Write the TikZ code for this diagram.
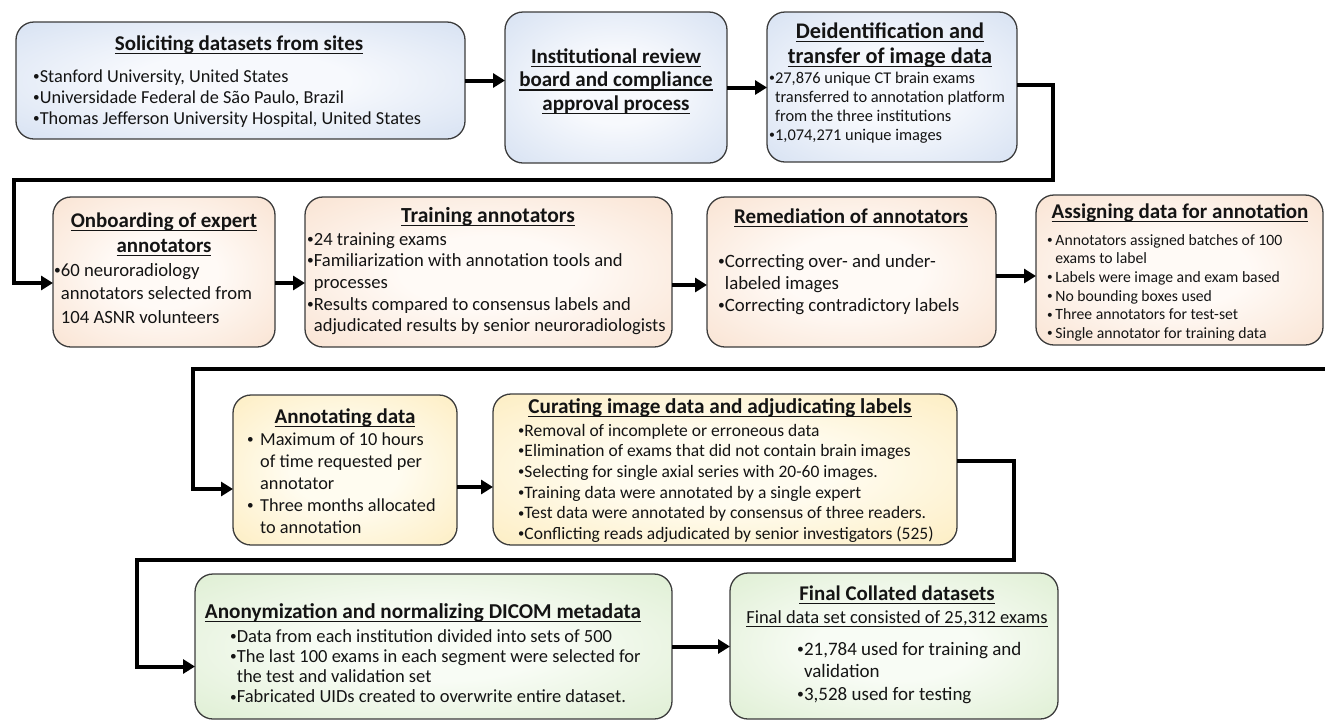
\documentclass[tikz,border=0pt]{standalone}
\usepackage{fontspec}
\usepackage{graphicx}
\setmainfont{Carlito}
\usetikzlibrary{arrows.meta,calc}
\definecolor{blueO}{RGB}{196,212,236}
\definecolor{blueI}{RGB}{247,249,253}
\definecolor{oranO}{RGB}{246,214,190}
\definecolor{oranI}{RGB}{255,250,246}
\definecolor{yellO}{RGB}{252,229,168}
\definecolor{yellI}{RGB}{255,252,240}
\definecolor{grenO}{RGB}{208,231,192}
\definecolor{grenI}{RGB}{248,252,245}
\definecolor{edgec}{RGB}{60,60,60}
\definecolor{textc}{RGB}{20,20,20}
\pgfdeclareradialshading{sblue}{\pgfpoint{0bp}{0bp}}{color(0bp)=(blueI); color(12bp)=(blueI); color(50bp)=(blueO)}
\pgfdeclareradialshading{soran}{\pgfpoint{0bp}{0bp}}{color(0bp)=(oranI); color(12bp)=(oranI); color(50bp)=(oranO)}
\pgfdeclareradialshading{syell}{\pgfpoint{0bp}{0bp}}{color(0bp)=(yellI); color(12bp)=(yellI); color(50bp)=(yellO)}
\pgfdeclareradialshading{sgren}{\pgfpoint{0bp}{0bp}}{color(0bp)=(grenI); color(12bp)=(grenI); color(50bp)=(grenO)}
\newcommand\bl{\raisebox{0.1em}{\scalebox{0.72}{\textbullet}}}
\newcommand\ci{\hphantom{\bl}}
\newcommand\ul[1]{\setbox0\hbox{#1}\leavevmode\rlap{\rule[-4.4pt]{\wd0}{1.5pt}}\box0}
\newcommand\TL[3]{\parbox[t]{600pt}{\fontsize{#1}{#2}\selectfont\raggedright #3}}
\newcommand\TT[3]{\parbox[t]{600pt}{\centering\fontsize{#1}{#2}\selectfont\bfseries #3}}
\tikzset{
  box/.style={draw=edgec, line width=1.3pt, rounded corners=18pt, anchor=north west, inner sep=0pt, outer sep=0pt},
  lt/.style={anchor=base west, inner sep=0pt, text=textc},
  ct/.style={anchor=base, inner sep=0pt, text=textc},
  conn/.style={line width=4pt, -{Triangle[length=12pt,width=14pt]}}
}
\begin{document}
\begin{tikzpicture}[x=1pt,y=-1pt]
\useasboundingbox (0,0) rectangle (1325,721);
% boxes
\node[box, shading=sblue, minimum width=449pt, minimum height=117pt] (b1) at (16,22) {};
\node[box, shading=sblue, minimum width=222pt, minimum height=151pt] (b2) at (505,12) {};
\node[box, shading=sblue, minimum width=250pt, minimum height=150pt] (b3) at (767,12) {};
\node[box, shading=soran, minimum width=222pt, minimum height=150pt] (b4) at (53,197) {};
\node[box, shading=soran, minimum width=367pt, minimum height=150pt] (b5) at (305,197) {};
\node[box, shading=soran, minimum width=289pt, minimum height=150pt] (b6) at (707,197) {};
\node[box, shading=soran, minimum width=287pt, minimum height=150pt] (b7) at (1036,195) {};
\node[box, shading=syell, minimum width=224pt, minimum height=150pt] (b8) at (233,395) {};
\node[box, shading=syell, minimum width=464pt, minimum height=151pt] (b9) at (493,394) {};
\node[box, shading=sgren, minimum width=477pt, minimum height=145pt] (b10) at (195,574) {};
\node[box, shading=sgren, minimum width=328pt, minimum height=146pt] (b11) at (730,573) {};
% texts
\node[ct] (h1) at (239,50) {\TT{21}{22}{\ul{Soliciting datasets from sites}}};
\node[lt] (t1) at (33,82) {\TL{18.3}{21}{\bl Stanford University, United States\\\bl Universidade Federal de São Paulo, Brazil\\\bl Thomas Jefferson University Hospital, United States}};
\node[ct] (h2) at (616,63) {\TT{21}{23.5}{\ul{Institutional review}\\\ul{board and compliance}\\\ul{approval process}}};
\node[ct] (h3) at (890,38) {\TT{22.3}{25}{\ul{Deidentification and}\\\ul{transfer of image data}}};
\node[lt] (t3) at (769,83) {\TL{16.4}{19}{\bl 27,876 unique CT brain exams\\\ci transferred to annotation platform\\\ci from the three institutions\\\bl 1,074,271 unique images}};
\node[ct] (h4) at (164,227) {\TT{20.9}{25}{\ul{Onboarding of expert}\\\ul{annotators}}};
\node[lt] (t4) at (54,276) {\TL{18.7}{23.5}{\bl 60 neuroradiology\\\ci annotators selected from\\\ci 104 ASNR volunteers}};
\node[ct] (h5) at (488,222) {\TT{21.5}{22}{\ul{Training annotators}}};
\node[lt] (t5) at (307,245) {\TL{18.6}{21.7}{\bl 24 training exams\\\bl Familiarization with annotation tools and\\\ci processes\\\bl Results compared to consensus labels and\\\ci adjudicated results by senior neuroradiologists}};
\node[ct] (h6) at (851,223) {\TT{21}{22}{\ul{Remediation of annotators}}};
\node[lt] (t6) at (718,267) {\TL{18.8}{22}{\bl Correcting over- and under-\\\ci labeled images\\\bl Correcting contradictory labels}};
\node[ct] (h7) at (1180,218) {\TT{21}{22}{\ul{Assigning data for annotation}}};
\node[lt] (t7) at (1047,245) {\TL{15.7}{18.7}{\bl\,Annotators assigned batches of 100\\\ci\,exams to label\\\bl\,Labels were image and exam based\\\bl\,No bounding boxes used\\\bl\,Three annotators for test-set\\\bl\,Single annotator for training data}};
\node[ct] (h8) at (345,423) {\TT{21}{22}{\ul{Annotating data}}};
\node[lt] (t8) at (247,445) {\TL{18.3}{22}{\makebox[13pt][l]{\bl}Maximum of 10 hours\\\hspace*{13pt}of time requested per\\\hspace*{13pt}annotator\\\makebox[13pt][l]{\bl}Three months allocated\\\hspace*{13pt}to annotation}};
\node[ct] (h9) at (720,413) {\TT{21.2}{22}{\ul{Curating image data and adjudicating labels}}};
\node[lt] (t9) at (518,436) {\TL{17.5}{20.7}{\bl Removal of incomplete or erroneous data\\\bl Elimination of exams that did not contain brain images\\\bl Selecting for single axial series with 20-60 images.\\\bl Training data were annotated by a single expert\\\bl Test data were annotated by consensus of three readers.\\\bl Conflicting reads adjudicated by senior investigators (525)}};
\node[ct] (h10) at (423,618) {\TT{21.2}{22}{\ul{Anonymization and normalizing DICOM metadata}}};
\node[lt] (t10) at (230,642) {\TL{18.5}{20.3}{\bl Data from each institution divided into sets of 500\\\bl The last 100 exams in each segment were selected for\\\ci the test and validation set\\\bl Fabricated UIDs created to overwrite entire dataset.}};
\node[ct] (h11) at (897,600) {\TT{20.9}{22}{\ul{Final Collated datasets}}};
\node[ct] (s11) at (897,623) {\parbox[t]{600pt}{\centering\fontsize{18.5}{20}\selectfont\ul{Final data set consisted of 25,312 exams}}};
\node[lt] (t11) at (797,655) {\TL{19}{22.5}{\bl 21,784 used for training and\\\ci validation\\\bl 3,528 used for testing}};
% connectors
\draw[conn] (b1.east) -- (b1.east -| b2.west);
\draw[conn] (b2.east) -- (b2.east -| b3.west);
\coordinate (k1) at (1053,180);
\coordinate (k2) at (14,180);
\draw[conn] ($(b3.east)+(0,-2)$) -| (k1) -- (k2) |- ($(b4.west)+(0,11)$);
\draw[conn] ($(b4.east)+(0,11)$) -- ($(b5.west)+(0,11)$);
\draw[conn] ($(b5.east)+(0,13)$) -- ($(b6.west)+(0,13)$);
\draw[conn] ($(b6.east)+(0,4)$) -- ($(b7.west)+(0,6)$);
\coordinate (k3) at (1325,369);
\coordinate (k4) at (193,369);
\draw[conn] (k3) -- (k4) |- ($(b8.west)+(0,19)$);
\draw[conn] ($(b8.east)+(0,17)$) -- ($(b9.west)+(0,17.5)$);
\coordinate (k5) at (1014,560);
\coordinate (k6) at (137,560);
\draw[conn] ($(b9.east)+(0,-8.5)$) -| (k5) -- (k6) |- ($(b10.west)+(0,20)$);
\draw[conn] (b10.east) -- (b10.east -| b11.west);
\end{tikzpicture}
\end{document}
